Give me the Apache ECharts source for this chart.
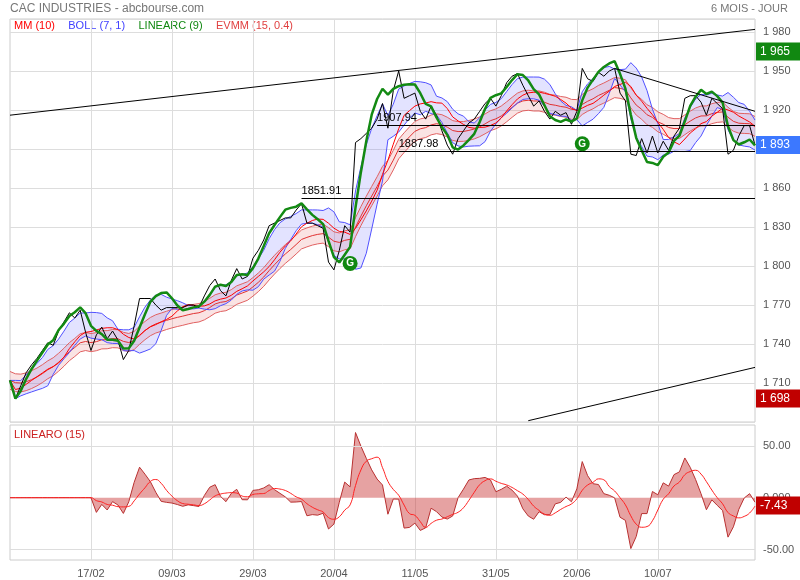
<!DOCTYPE html>
<html>
<head>
<meta charset="utf-8">
<script src="https://cdn.jsdelivr.net/npm/echarts@6/dist/echarts.min.js"></script>
<style>body{margin:0;background:#fff}#chart{width:800px;height:580px}</style>
</head>
<body>
<div id="chart"></div>
<script>
// cours de cloture
var closes = [1712, 1698, 1708, 1718, 1724, 1729, 1735, 1741, 1739, 1750,
	1757, 1764, 1760, 1766, 1749, 1735, 1747, 1753, 1744, 1750,
	1743, 1728, 1735, 1754, 1775, 1775, 1775, 1770, 1766, 1768,
	1768, 1768, 1768, 1770, 1770, 1768, 1777, 1785, 1790, 1781,
	1777, 1789, 1798, 1790, 1792, 1806, 1812, 1820, 1831, 1833,
	1835, 1837, 1837, 1843, 1848, 1833, 1833, 1831, 1829, 1803,
	1797, 1812, 1831, 1826, 1895, 1898, 1902, 1906, 1913, 1925,
	1906, 1935, 1950, 1929, 1931, 1933, 1919, 1913, 1923, 1916,
	1904, 1893, 1886, 1898, 1904, 1910, 1913, 1919, 1925, 1929,
	1923, 1931, 1941, 1946, 1948, 1939, 1931, 1923, 1927, 1919,
	1913, 1919, 1916, 1918, 1909, 1919, 1952, 1944, 1942, 1949,
	1946, 1950, 1952, 1933, 1927, 1886, 1885, 1898, 1887, 1900,
	1887, 1896, 1889, 1900, 1906, 1929, 1931, 1931, 1926, 1916,
	1929, 1925, 1921, 1886, 1889, 1900, 1908, 1908, 1893];
var tickIdx = [15, 30, 45, 60, 75, 90, 105, 120];
var tickLabels = ['17/02', '09/03', '29/03', '20/04', '11/05', '31/05', '20/06', '10/07'];
var supports = [[54, 1851.91], [68, 1907.94], [72, 1887.98]];
var trendUp = [[0, 1916], [138, 1982]];
var trendLow = [[96, 1681], [138, 1722]];
var trendDown = [[112, 1952], [138, 1919]];
var signals = [[63, 1802], [106, 1894]];

var cats = [];
for(var i = 0; i < closes.length; i++) cats.push(String(i));

function win(i, n) { return closes.slice(Math.max(0, i - n + 1), i + 1); }
function mean(a) { var s = 0; for(var k = 0; k < a.length; k++) s += a[k]; return s / a.length; }
function linreg(a) {
	var n = a.length; if(n < 2) return a[0];
	var sx = 0, sy = 0, sxy = 0, sxx = 0;
	for(var k = 0; k < n; k++) { sx += k; sy += a[k]; sxy += k * a[k]; sxx += k * k; }
	var b = (n * sxy - sx * sy) / (n * sxx - sx * sx);
	return (sy - b * sx) / n + b * (n - 1);
}
var mm = [], bUp = [], bLow = [], lin = [], ema = [], eUp = [], eLow = [], osc = [], sig = [];
for(var i = 0; i < closes.length; i++) {
	mm.push(mean(win(i, 10)));
	var w = win(i, 7), m = mean(w), v = 0;
	for(var k = 0; k < w.length; k++) v += (w[k] - m) * (w[k] - m);
	var sd = Math.sqrt(v / w.length);
	bUp.push(m + sd); bLow.push(m - sd);
	lin.push(linreg(win(i, 9)));
	var e = i == 0 ? closes[0] : ema[i - 1] + (closes[i] - ema[i - 1]) * 2 / 16;
	ema.push(e); eUp.push(e * 1.004); eLow.push(e * 0.996);
	osc.push(i < 16 ? 0 : closes[i] - linreg(win(i, 15)));
}
for(var i = 0; i < osc.length; i++) {
	var a = osc.slice(Math.max(0, i - 4), i + 1);
	sig.push(mean(a));
}
function diff(a, b) { return a.map(function(x, i) { return x - b[i]; }); }
function seg(p, color) { return [{ coord: [String(p[0][0]), p[0][1]] }, { coord: [String(p[1][0]), p[1][1]], lineStyle: { color: color } }]; }

var myChart = echarts.init(document.getElementById('chart'));
var thin = { width: 1, color: '#5050ff' };
var option = {
	animation: false,
	textStyle: { fontFamily: 'Arial, Liberation Sans, sans-serif' },
	grid: [
		{ left: 10, right: 45, top: 19, height: 403, show: true, borderColor: '#ccc' },
		{ left: 10, right: 45, top: 425, height: 135, show: true, borderColor: '#ccc' }
	],
	xAxis: [0, 1].map(function(g) {
		return {
			type: 'category', gridIndex: g, data: cats, boundaryGap: false,
			axisLine: { show: false }, axisTick: { show: false },
			axisLabel: {
				show: g == 1, color: '#555', fontSize: 11, interval: function(i) { return tickIdx.indexOf(i) > -1; },
				formatter: function(v, i) { return tickLabels[tickIdx.indexOf(+v)] || ''; }
			},
			splitLine: { show: true, interval: function(i) { return tickIdx.indexOf(i) > -1; }, lineStyle: { color: '#ddd' } }
		};
	}),
	yAxis: [
		{
			gridIndex: 0, position: 'right', min: 1680, max: 1990, interval: 30, scale: true,
			axisLine: { show: false }, axisTick: { show: false },
			axisLabel: { color: '#555', fontSize: 11, showMinLabel: false, showMaxLabel: false,
				formatter: function(v) { return v == 1890 ? '' : String(v).replace(/(\d)(\d{3})$/, '$1 $2'); } },
			splitLine: { lineStyle: { color: '#ddd' } }
		},
		{
			gridIndex: 1, position: 'right', min: -60, max: 70, interval: 10,
			axisLine: { show: false }, axisTick: { show: false }, splitLine: { show: false },
			axisLabel: { color: '#555', fontSize: 11,
				formatter: function(v) { return v == 50 ? '50.00' : v == 0 ? '0.000' : v == -50 ? '-50.00' : ''; } }
		}
	],
	series: [
		{ type: 'line', data: eLow, stack: 'e', symbol: 'none', lineStyle: { opacity: 0 } },
		{ type: 'line', data: diff(eUp, eLow), stack: 'e', symbol: 'none', lineStyle: { opacity: 0 }, areaStyle: { color: 'rgba(230,110,110,0.28)' } },
		{ type: 'line', data: bLow, stack: 'b', symbol: 'none', lineStyle: { opacity: 0 } },
		{ type: 'line', data: diff(bUp, bLow), stack: 'b', symbol: 'none', lineStyle: { opacity: 0 }, areaStyle: { color: 'rgba(110,110,255,0.28)' } },
		{ type: 'line', data: eUp, symbol: 'none', lineStyle: { width: 1, color: '#e06060' } },
		{ type: 'line', data: eLow, symbol: 'none', lineStyle: { width: 1, color: '#e06060' } },
		{ type: 'line', data: ema, symbol: 'none', lineStyle: { width: 1, color: '#e03030' } },
		{ type: 'line', data: bUp, symbol: 'none', lineStyle: thin },
		{ type: 'line', data: bLow, symbol: 'none', lineStyle: thin },
		{ type: 'line', data: mm, symbol: 'none', lineStyle: { width: 1, color: '#ff0000' } },
		{
			type: 'line', data: closes, symbol: 'none', lineStyle: { width: 1, color: '#000' },
			markLine: {
				silent: true, symbol: 'none', lineStyle: { color: '#000', width: 1, type: 'solid' },
				label: { position: 'insideStartTop', color: '#000', fontSize: 11, distance: [0, 2],
					formatter: function(p) { return p.data.name || ''; } },
				data: supports.map(function(s) {
					return [{ coord: [String(s[0]), s[1]], name: s[1].toFixed(2) }, { coord: [String(closes.length - 1), s[1]] }];
				}).concat([seg(trendUp, '#000'), seg(trendLow, '#000'), seg(trendDown, '#000')])
			},
			markPoint: {
				symbol: 'circle', symbolSize: 15, itemStyle: { color: '#118811' },
				label: { color: '#fff', fontSize: 10, fontWeight: 'bold', formatter: 'G' },
				data: signals.map(function(s) { return { coord: [String(s[0]), s[1]] }; })
			}
		},
		{ type: 'line', data: lin, symbol: 'none', lineStyle: { width: 2.5, color: '#138a13' } },
		{
			type: 'line', xAxisIndex: 1, yAxisIndex: 1, data: osc, symbol: 'none',
			lineStyle: { width: 1, color: '#b83030' }, areaStyle: { color: 'rgba(200,50,50,0.65)' },
			markLine: { silent: true, symbol: 'none', label: { show: false }, lineStyle: { color: '#ddd', type: 'solid', width: 1 },
				data: [{ yAxis: 50 }, { yAxis: -50 }] }
		},
		{ type: 'line', xAxisIndex: 1, yAxisIndex: 1, data: sig, symbol: 'none', smooth: true, lineStyle: { width: 1, color: '#ff2020' } }
	],
	graphic: [
		{ type: 'text', left: 10, top: 3, style: { text: 'CAC INDUSTRIES - abcbourse.com', fill: '#777', font: '12px Arial' } },
		{ type: 'text', right: 12, top: 3, style: { text: '6 MOIS - JOUR', fill: '#777', font: '11px Arial' } },
		{ type: 'text', left: 14, top: 20, style: { rich: {
			a: { fill: '#ff0000', font: '11px Arial' }, b: { fill: '#4040ff', font: '11px Arial' },
			c: { fill: '#118811', font: '11px Arial' }, d: { fill: '#e04040', font: '11px Arial' } },
			text: '{a|MM (10)}    {b|BOLL (7, 1)}    {c|LINEARC (9)}    {d|EVMM (15, 0.4)}' } },
		{ type: 'text', left: 14, top: 429, style: { text: 'LINEARO (15)', fill: '#cc2020', font: '11px Arial' } }
	]
};
myChart.setOption(option);

// etiquettes de valeur a droite
var tags = [[0, 1965, '1 965', '#118811'], [0, 1893, '1 893', '#3c78ff'], [0, 1698, '1 698', '#c00000'], [1, -7.43, '-7.43', '#c00000']];
var g = option.graphic.slice();
for(var i = 0; i < tags.length; i++) {
	var y = myChart.convertToPixel({ yAxisIndex: tags[i][0] }, tags[i][1]);
	g.push({ type: 'rect', z: 100, shape: { x: 756, y: y - 9, width: 44, height: 18 }, style: { fill: tags[i][3] } });
	g.push({ type: 'text', z: 101, x: 760, y: y - 6, style: { text: tags[i][2], fill: '#fff', font: '12px Arial' } });
}
myChart.setOption({ graphic: g });
</script>
</body>
</html>
